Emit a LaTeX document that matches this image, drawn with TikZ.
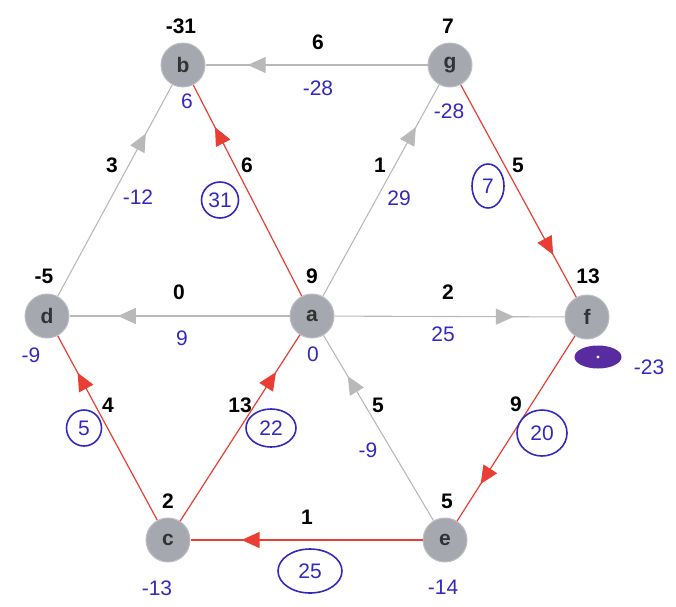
\documentclass[tikz,border=0pt]{standalone}
\usepackage{fontspec}
\setmainfont{Liberation Sans}
\usetikzlibrary{arrows.meta,decorations.markings,shapes.geometric}
\definecolor{nodegray}{RGB}{166,168,176}
\definecolor{edgered}{RGB}{232,62,52}
\definecolor{edgegray}{RGB}{185,185,185}
\definecolor{pen}{RGB}{52,40,190}
\definecolor{blob}{RGB}{88,44,160}
\begin{document}
\begin{tikzpicture}[x=1pt,y=-1pt,
  vtx/.style={circle,fill=nodegray,draw=nodegray!75,line width=1pt,minimum size=44pt,inner sep=0pt,
    font=\fontsize{21}{21}\selectfont\bfseries,text=black!80},
  wt/.style={font=\fontsize{21}{24}\selectfont\bfseries,inner sep=0pt},
  hw/.style={text=pen,font=\fontsize{21}{24}\selectfont,inner sep=0pt},
  hwc/.style={hw,draw=pen,line width=1.6pt,ellipse,inner sep=0pt},
  redge/.style={draw=edgered,line width=1.2pt,postaction={decorate},
    decoration={markings,mark=at position #1 with {\arrow[edgered]{Triangle[length=18pt,width=16pt]}}}},
  redge/.default=0.78,
  gedge/.style={draw=edgegray,line width=1.1pt,postaction={decorate},
    decoration={markings,mark=at position #1 with {\arrow[edgegray]{Triangle[length=18pt,width=16pt]}}}},
  gedge/.default=0.78
]
\useasboundingbox (0,0) rectangle (676,606);
% vertices
\node[vtx] (b) at (183,65) {b};
\node[vtx] (g) at (450,65) {g};
\node[vtx] (d) at (47,316) {d};
\node[vtx] (a) at (312,316) {a};
\node[vtx] (f) at (587,317) {f};
\node[vtx] (c) at (168,540) {c};
\node[vtx] (e) at (445,540) {e};
% edges
\draw[gedge=0.81] (g) -- (b);
\draw[gedge=0.77] (d) -- (b);
\draw[redge=0.8] (a) -- (b);
\draw[gedge=0.8] (a) -- (g);
\draw[redge=0.8] (g) -- (f);
\draw[gedge=0.78] (a) -- (d);
\draw[gedge=0.78] (a) -- (f);
\draw[redge=0.8] (c) -- (d);
\draw[redge=0.8] (c) -- (a);
\draw[gedge=0.78] (e) -- (a);
\draw[redge=0.8] (f) -- (e);
\draw[redge=0.78] (e) -- (c);
% vertex values
\node[wt] (vb) at (181,26) {-31};
\node[wt] (vg) at (448,26) {7};
\node[wt] (vd) at (44,276) {-5};
\node[wt] (va) at (312,276) {9};
\node[wt] (vf) at (588,276) {13};
\node[wt] (vc) at (168,501) {2};
\node[wt] (ve) at (447,501) {5};
% edge weights
\node[wt] (wgb) at (318,42) {6};
\node[wt] (wdb) at (112,165) {3};
\node[wt] (wab) at (247,165) {6};
\node[wt] (wag) at (380,165) {1};
\node[wt] (wgf) at (518,165) {5};
\node[wt] (wad) at (179,292) {0};
\node[wt] (waf) at (448,292) {2};
\node[wt] (wcd) at (108,405) {4};
\node[wt] (wca) at (240,405) {13};
\node[wt] (wea) at (378,405) {5};
\node[wt] (wfe) at (516,404) {9};
\node[wt] (wec) at (307,517) {1};
% handwritten annotations
\node[hw] (hb) at (187,101) {6};
\node[hw] (hg) at (449,111) {-28};
\node[hw] (hd) at (31,355) {-9};
\node[hw] (ha) at (313,354) {0};
\node[hw] (hf) at (649,367) {-23};
\node[hw] (hc) at (157,588) {-13};
\node[hw] (he) at (443,587) {-14};
\node[hw] (hgb) at (318,88) {-28};
\node[hw] (hdb) at (138,197) {-12};
\node[hw] (hag) at (399,198) {29};
\node[hw] (had) at (182,338) {9};
\node[hw] (haf) at (443,334) {25};
\node[hw] (hea) at (368,450) {-9};
\node[hwc,minimum width=37pt,minimum height=36pt] (hab) at (220,200) {31};
\node[hwc,minimum width=32pt,minimum height=44pt] (hgf) at (488,186) {7};
\node[hwc,minimum width=35pt,minimum height=36pt] (hcd) at (84,428) {5};
\node[hwc,minimum width=50pt,minimum height=38pt] (hca) at (271,428) {22};
\node[hwc,minimum width=50pt,minimum height=46pt] (hfe) at (542,433) {20};
\node[hwc,minimum width=64pt,minimum height=44pt] (hec) at (310,571) {25};
% scribbled mark below f
\node[ellipse,fill=blob,minimum width=47pt,minimum height=23pt,inner sep=0pt] (blotf) at (598,357) {};
\fill[white] (blotf.center) circle (1.6pt);
\end{tikzpicture}
\end{document}
